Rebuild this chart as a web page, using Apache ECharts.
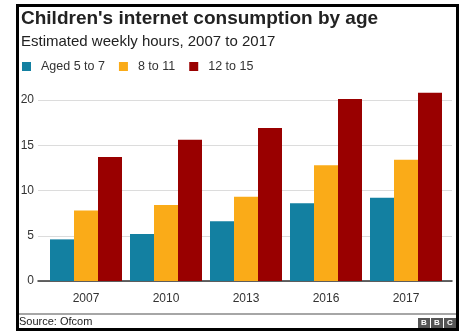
<!DOCTYPE html>
<html><head><meta charset="utf-8">
<script src="https://cdn.jsdelivr.net/npm/echarts@6/dist/echarts.min.js"></script>
<style>html,body{margin:0;padding:0;background:#fff}#c{width:465px;height:334px}</style>
</head><body><div id="c"></div>
<script>
var categories = ['2007', '2010', '2013', '2016', '2017'];
var aged5to7 = [4.6, 5.2, 6.6, 8.6, 9.2];
var aged8to11 = [7.8, 8.4, 9.3, 12.8, 13.4];
var aged12to15 = [13.7, 15.6, 16.9, 20.1, 20.8];
var seriesNames = ['Aged 5 to 7', '8 to 11', '12 to 15'];
var colors = ['#1380A1', '#FAAB18', '#990000'];
var yTicks = [0, 5, 10, 15, 20];

var chart = echarts.init(document.getElementById('c'));
var font = 'Liberation Sans, Arial, sans-serif';
chart.setOption({
  animation: false,
  textStyle: {fontFamily: font},
  title: [{
    text: "Children's internet consumption by age",
    left: 16, top: 4,
    textStyle: {fontSize: 19, fontWeight: 'bold', color: '#222', fontFamily: font}
  }, {
    text: 'Estimated weekly hours, 2007 to 2017',
    left: 16, top: 29,
    textStyle: {fontSize: 15, fontWeight: 'normal', color: '#222', fontFamily: font}
  }, {
    text: 'Source: Ofcom',
    left: 14, top: 311,
    textStyle: {fontSize: 11, fontWeight: 'normal', color: '#222', fontFamily: font}
  }],
  legend: {
    left: 17, top: 55,
    itemWidth: 9, itemHeight: 9, itemGap: 14,
    icon: 'rect',
    textStyle: {fontSize: 12.5, color: '#333', fontFamily: font, padding: [0, 0, 0, 5]},
    data: seriesNames
  },
  grid: [
    {left: 38, right: 13, top: 100, bottom: 53},
    {left: 46, right: 19, top: 100, bottom: 53}
  ],
  xAxis: [{
    gridIndex: 0, type: 'category', data: categories,
    axisLine: {show: true, lineStyle: {color: '#333', width: 1.5}},
    axisTick: {show: false}, axisLabel: {show: false}, splitLine: {show: false}
  }, {
    gridIndex: 1, type: 'category', data: categories,
    axisLine: {show: false}, axisTick: {show: false},
    axisLabel: {fontSize: 12, color: '#333', margin: 12, fontFamily: font}
  }],
  yAxis: [{
    gridIndex: 0, type: 'value', min: 0, max: 20, interval: 5,
    axisLine: {show: false}, axisTick: {show: false},
    axisLabel: {fontSize: 12, color: '#333', margin: 4, fontFamily: font,
      customValues: yTicks},
    splitLine: {lineStyle: {color: '#dcdcdc', width: 1}}
  }, {
    gridIndex: 1, type: 'value', min: 0, max: 20, interval: 5,
    axisLine: {show: false}, axisTick: {show: false},
    axisLabel: {show: false}, splitLine: {show: false}
  }],
  series: [
    {name: seriesNames[0], type: 'bar', xAxisIndex: 1, yAxisIndex: 1, data: aged5to7,
     itemStyle: {color: colors[0]}, barGap: '0%', barCategoryGap: '10%', clip: false},
    {name: seriesNames[1], type: 'bar', xAxisIndex: 1, yAxisIndex: 1, data: aged8to11,
     itemStyle: {color: colors[1]}, barGap: '0%', barCategoryGap: '10%', clip: false},
    {name: seriesNames[2], type: 'bar', xAxisIndex: 1, yAxisIndex: 1, data: aged12to15,
     itemStyle: {color: colors[2]}, barGap: '0%', barCategoryGap: '10%', clip: false}
  ],
  graphic: [
    {type: 'rect', shape: {x: 17.5, y: 5.5, width: 440, height: 324}, style: {fill: 'none', stroke: '#000', lineWidth: 3}, z: 100},
    {type: 'line', shape: {x1: 19, y1: 314, x2: 456, y2: 314}, style: {stroke: '#888', lineWidth: 1.5}},
    {type: 'group', left: 418, top: 318, children: [
      {type: 'rect', shape: {x: 0, y: 0, width: 12, height: 10}, style: {fill: '#555'}},
      {type: 'text', x: 6, y: 5, style: {text: 'B', fill: '#fff', font: 'bold 8px ' + font, align: 'center', verticalAlign: 'middle'}},
      {type: 'rect', shape: {x: 13, y: 0, width: 12, height: 10}, style: {fill: '#555'}},
      {type: 'text', x: 19, y: 5, style: {text: 'B', fill: '#fff', font: 'bold 8px ' + font, align: 'center', verticalAlign: 'middle'}},
      {type: 'rect', shape: {x: 26, y: 0, width: 12, height: 10}, style: {fill: '#555'}},
      {type: 'text', x: 32, y: 5, style: {text: 'C', fill: '#fff', font: 'bold 8px ' + font, align: 'center', verticalAlign: 'middle'}}
    ]}
  ]
});
</script></body></html>
